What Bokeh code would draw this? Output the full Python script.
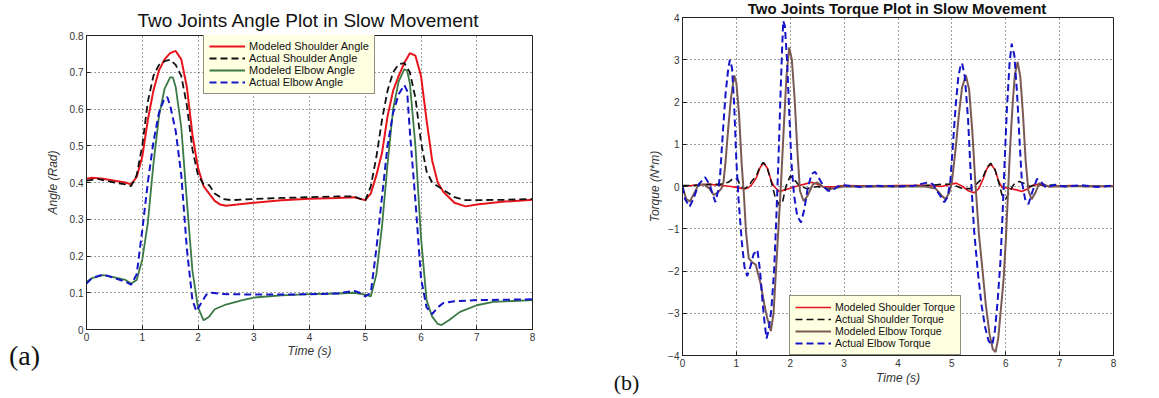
from bokeh.plotting import figure
from bokeh.layouts import row, column
from bokeh.models import Range1d, FixedTicker, Div
from bokeh.embed import file_html
from bokeh.resources import INLINE

# ---------------- (a) Angle data ----------------
title_a = "Two Joints Angle Plot in Slow Movement"
title_b = "Two Joints Torque Plot in Slow Movement"
x_ticks = [0, 1, 2, 3, 4, 5, 6, 7, 8]
angle_ticks = [0, 0.1, 0.2, 0.3, 0.4, 0.5, 0.6, 0.7, 0.8]
angle_tick_labels = ["0", "0.1", "0.2", "0.3", "0.4", "0.5", "0.6", "0.7", "0.8"]

sh_mod_t = [0, 0.1, 0.3, 0.5, 0.7, 0.8, 0.9, 1.0, 1.1, 1.2, 1.3, 1.4, 1.5, 1.6, 1.7, 1.8, 1.9, 2.0, 2.1, 2.2,
            2.3, 2.4, 2.5, 2.7, 3.0, 3.5, 4.0, 4.5, 4.8, 5.0, 5.1, 5.2, 5.3, 5.4, 5.5, 5.6, 5.7, 5.8, 5.9, 6.0,
            6.1, 6.2, 6.3, 6.4, 6.5, 6.6, 6.8, 7.0, 7.5, 8.0]
sh_mod = [0.41, 0.413, 0.41, 0.405, 0.40, 0.395, 0.415, 0.47, 0.57, 0.65, 0.705, 0.735, 0.752, 0.758, 0.735,
          0.66, 0.53, 0.44, 0.39, 0.37, 0.35, 0.34, 0.337, 0.34, 0.345, 0.352, 0.356, 0.358, 0.36, 0.352,
          0.37, 0.42, 0.48, 0.58, 0.65, 0.69, 0.725, 0.752, 0.745, 0.69, 0.57, 0.46, 0.40, 0.375, 0.36,
          0.345, 0.335, 0.34, 0.348, 0.353]

sh_act_t = [0, 0.2, 0.5, 0.7, 0.8, 0.9, 1.0, 1.1, 1.2, 1.3, 1.4, 1.5, 1.6, 1.7, 1.8, 1.9, 2.0, 2.1, 2.2, 2.3,
            2.45, 2.6, 3.0, 3.5, 4.0, 4.5, 4.8, 5.0, 5.1, 5.2, 5.3, 5.4, 5.5, 5.6, 5.7, 5.8, 5.9, 6.0, 6.1, 6.2,
            6.3, 6.4, 6.6, 6.8, 7.0, 7.5, 8.0]
sh_act = [0.405, 0.41, 0.40, 0.395, 0.39, 0.42, 0.50, 0.62, 0.69, 0.72, 0.73, 0.734, 0.72, 0.69, 0.61,
          0.49, 0.42, 0.395, 0.393, 0.37, 0.355, 0.352, 0.355, 0.358, 0.36, 0.362, 0.362, 0.35, 0.39, 0.47,
          0.57, 0.65, 0.70, 0.722, 0.725, 0.70, 0.63, 0.51, 0.43, 0.40, 0.39, 0.38, 0.36, 0.352, 0.352,
          0.353, 0.355]

el_mod_t = [0, 0.1, 0.3, 0.5, 0.7, 0.8, 0.9, 1.0, 1.1, 1.2, 1.3, 1.4, 1.5, 1.55, 1.6, 1.7, 1.8, 1.9, 2.0, 2.1,
            2.2, 2.3, 2.5, 2.8, 3.0, 3.5, 4.0, 4.5, 4.8, 5.0, 5.1, 5.2, 5.3, 5.4, 5.5, 5.6, 5.7, 5.75, 5.8, 5.9,
            6.0, 6.1, 6.2, 6.3, 6.37, 6.5, 6.7, 7.0, 7.3, 8.0]
el_mod = [0.13, 0.14, 0.148, 0.142, 0.135, 0.125, 0.135, 0.19, 0.29, 0.45, 0.58, 0.655, 0.686, 0.686, 0.66,
          0.55, 0.35, 0.16, 0.06, 0.025, 0.035, 0.055, 0.068, 0.08, 0.087, 0.093, 0.096, 0.098, 0.10, 0.095,
          0.09, 0.15, 0.28, 0.45, 0.60, 0.675, 0.708, 0.705, 0.67, 0.50, 0.25, 0.08, 0.035, 0.015, 0.012,
          0.025, 0.048, 0.066, 0.075, 0.08]

el_act_t = [0, 0.1, 0.3, 0.5, 0.7, 0.8, 0.9, 1.0, 1.1, 1.2, 1.3, 1.4, 1.45, 1.5, 1.6, 1.7, 1.8, 1.9, 1.97, 2.05,
            2.15, 2.25, 2.4, 2.6, 3.0, 3.5, 4.0, 4.5, 4.8, 4.9, 5.0, 5.1, 5.2, 5.3, 5.4, 5.5, 5.6, 5.7, 5.75, 5.8,
            5.9, 6.0, 6.1, 6.2, 6.3, 6.4, 6.6, 7.0, 7.5, 8.0]
el_act = [0.125, 0.14, 0.15, 0.14, 0.13, 0.122, 0.15, 0.27, 0.40, 0.51, 0.59, 0.63, 0.632, 0.61, 0.54,
          0.42, 0.22, 0.08, 0.05, 0.07, 0.095, 0.10, 0.097, 0.096, 0.095, 0.095, 0.096, 0.098, 0.105, 0.10,
          0.09, 0.10, 0.22, 0.36, 0.50, 0.59, 0.64, 0.665, 0.65, 0.54, 0.35, 0.14, 0.06, 0.042, 0.06,
          0.072, 0.077, 0.08, 0.081, 0.082]

# ---------------- (b) Torque data ----------------
torque_ticks = [-4, -3, -2, -1, 0, 1, 2, 3, 4]

tq_sh_mod_t = [0, 0.3, 0.5, 0.7, 0.9, 1.0, 1.15, 1.22, 1.29, 1.37, 1.44, 1.51, 1.58, 1.65, 1.7, 1.8, 1.9, 2.0,
               2.1, 2.25, 2.39, 2.5, 2.6, 2.8, 3.0, 3.5, 4.0, 4.5, 4.8, 5.08, 5.2, 5.3, 5.41, 5.5, 5.57, 5.65,
               5.72, 5.8, 5.87, 5.93, 6.05, 6.2, 6.3, 6.4, 6.5, 6.6, 6.8, 7.2, 7.6, 8.0]
tq_sh_mod = [0.0, 0.04, 0.05, 0.03, 0.0, -0.02, -0.06, -0.03, 0.05, 0.2, 0.45, 0.56, 0.42, 0.12, 0.0, -0.12,
             -0.08, -0.04, 0.0, 0.05, 0.1, 0.06, 0.0, -0.01, 0.02, 0.01, 0.02, 0.03, 0.0, 0.08, 0.0, -0.1,
             -0.15, -0.05, 0.15, 0.42, 0.54, 0.4, 0.12, -0.02, -0.04, -0.08, -0.12, -0.06, 0.03, 0.05, 0.0,
             0.02, 0.0, 0.01]

tq_sh_act_t = [0, 0.3, 0.5, 0.7, 0.85, 0.95, 1.02, 1.08, 1.15, 1.22, 1.3, 1.37, 1.44, 1.5, 1.57, 1.65, 1.72,
               1.8, 1.86, 1.92, 2.0, 2.05, 2.15, 2.3, 2.5, 2.7, 2.9, 3.5, 4.0, 4.5, 4.8, 5.0, 5.1, 5.2, 5.35,
               5.45, 5.57, 5.65, 5.72, 5.8, 5.87, 5.93, 6.0, 6.08, 6.15, 6.25, 6.33, 6.45, 6.6, 7.0, 7.5, 8.0]
tq_sh_act = [0.02, 0.03, 0.05, 0.05, 0.1, 0.2, 0.18, 0.0, -0.05, 0.0, 0.15, 0.25, 0.48, 0.57, 0.45, 0.1,
             -0.25, -0.45, -0.35, 0.0, 0.25, 0.2, 0.05, -0.05, 0.0, -0.05, 0.0, 0.0, 0.0, 0.02, 0.05, 0.06,
             0.0, -0.05, -0.05, 0.05, 0.2, 0.45, 0.55, 0.4, 0.1, -0.2, -0.3, -0.1, 0.05, 0.12, 0.08, 0.0,
             0.05, 0.02, 0.0, 0.02]

tq_el_mod_t = [0, 0.07, 0.14, 0.22, 0.3, 0.4, 0.5, 0.58, 0.65, 0.72, 0.76, 0.8, 0.85, 0.9, 0.96, 1.0, 1.05,
               1.1, 1.14, 1.18, 1.23, 1.3, 1.36, 1.45, 1.52, 1.57, 1.64, 1.69, 1.73, 1.78, 1.83, 1.88, 1.93,
               1.98, 2.03, 2.08, 2.13, 2.18, 2.25, 2.33, 2.42, 2.5, 2.6, 2.7, 2.8, 3.0, 3.5, 4.0, 4.5, 4.7,
               4.8, 4.88, 4.95, 5.0, 5.07, 5.13, 5.19, 5.26, 5.32, 5.38, 5.43, 5.5, 5.57, 5.63, 5.7, 5.76,
               5.81, 5.86, 5.91, 5.96, 6.0, 6.04, 6.08, 6.13, 6.17, 6.22, 6.27, 6.32, 6.37, 6.42, 6.48, 6.55,
               6.62, 6.7, 6.8, 7.0, 7.5, 8.0]
tq_el_mod = [0.0, -0.3, -0.35, -0.15, 0.05, 0.05, -0.05, -0.2, -0.15, -0.05, 0.1, 0.6, 1.4, 2.1, 2.63, 2.45,
             1.7, 0.5, -0.2, -1.1, -1.7, -1.8, -1.85, -2.3, -2.8, -3.1, -3.42, -3.0, -2.1, -1.0, 0.1, 1.4,
             2.6, 3.29, 3.0, 2.1, 0.9, -0.1, -0.35, -0.2, 0.05, 0.1, 0.0, -0.08, -0.04, 0.0, 0.0, 0.0, 0.0,
             -0.05, -0.2, -0.3, -0.15, 0.1, 0.9, 1.7, 2.35, 2.63, 2.3, 1.3, 0.2, -1.1, -2.0, -2.8, -3.5,
             -3.85, -3.92, -3.6, -2.9, -2.2, -1.3, -0.2, 0.9, 2.0, 2.65, 2.95, 2.6, 1.7, 0.6, -0.1, -0.3,
             -0.15, 0.08, 0.05, 0.0, 0.0, 0.01, 0.0]

tq_el_act_t = [0, 0.05, 0.13, 0.2, 0.3, 0.42, 0.5, 0.61, 0.66, 0.7, 0.75, 0.8, 0.85, 0.88, 0.92, 0.96, 1.0,
               1.04, 1.1, 1.15, 1.2, 1.26, 1.32, 1.39, 1.44, 1.49, 1.53, 1.56, 1.6, 1.65, 1.7, 1.74, 1.78,
               1.82, 1.85, 1.87, 1.9, 1.94, 1.98, 2.02, 2.07, 2.13, 2.2, 2.26, 2.33, 2.4, 2.46, 2.53, 2.62,
               2.7, 2.78, 2.88, 3.0, 3.3, 3.6, 4.0, 4.3, 4.5, 4.57, 4.65, 4.72, 4.8, 4.86, 4.92, 4.97, 5.02,
               5.07, 5.12, 5.16, 5.19, 5.24, 5.3, 5.35, 5.41, 5.48, 5.55, 5.62, 5.68, 5.75, 5.8, 5.85, 5.9,
               5.94, 5.98, 6.02, 6.07, 6.11, 6.16, 6.21, 6.26, 6.3, 6.36, 6.42, 6.5, 6.58, 6.66, 6.75, 6.9,
               7.1, 7.4, 7.7, 8.0]
tq_el_act = [0.0, -0.3, -0.48, -0.3, 0.05, 0.22, 0.05, -0.37, -0.1, 0.3, 1.3, 2.2, 2.8, 3.0, 2.8, 1.9, 0.6,
             -0.3, -1.3, -1.9, -2.12, -1.9, -1.6, -1.5, -2.0, -2.8, -3.3, -3.6, -3.4, -2.9, -2.0, -0.8, 0.6,
             2.2, 3.3, 3.92, 3.8, 3.0, 1.8, 0.6, -0.2, -0.7, -0.85, -0.55, 0.0, 0.3, 0.35, 0.2, 0.0, -0.1,
             -0.1, 0.0, 0.03, -0.01, 0.02, 0.0, 0.02, 0.08, 0.1, 0.05, -0.1, -0.25, -0.37, -0.25, 0.1, 1.0,
             1.9, 2.6, 2.85, 2.92, 2.6, 1.6, 0.3, -1.0, -2.0, -2.8, -3.35, -3.65, -3.75, -3.4, -2.7, -1.8,
             -0.7, 0.6, 1.8, 2.9, 3.38, 3.1, 2.2, 1.0, 0.1, -0.3, -0.42, -0.1, 0.18, 0.1, -0.03, 0.04, 0.0,
             0.03, -0.01, 0.02]

FONT = "Liberation Sans"
GRID = "#3a3a3a"


def style(p, xticks, yticks, ylabels=None):
    p.outline_line_color = "#222222"
    p.outline_line_width = 1
    p.background_fill_color = "white"
    p.border_fill_color = "white"
    for ax in (p.xaxis[0], p.yaxis[0]):
        ax.major_tick_in = 4
        ax.major_tick_out = 0
        ax.minor_tick_line_color = None
        ax.axis_line_color = "#222222"
        ax.major_tick_line_color = "#222222"
        ax.major_label_text_font = FONT
        ax.major_label_text_font_size = "10px"
        ax.major_label_text_color = "#333333"
        ax.major_label_standoff = 3
        ax.axis_label_text_font = FONT
        ax.axis_label_text_font_size = "12px"
        ax.axis_label_text_font_style = "italic"
        ax.axis_label_text_color = "#333333"
    p.xaxis[0].ticker = FixedTicker(ticks=xticks)
    p.yaxis[0].ticker = FixedTicker(ticks=yticks)
    if ylabels is not None:
        p.yaxis[0].major_label_overrides = {v: s for v, s in zip(yticks, ylabels)}
    for g in (p.xgrid[0], p.ygrid[0]):
        g.grid_line_color = GRID
        g.grid_line_dash = "1 3"
        g.grid_line_width = 1


def style_legend(p, loc, font_size):
    lg = p.legend[0]
    lg.location = loc
    lg.margin = 0
    lg.padding = 5
    lg.spacing = 0
    lg.glyph_width = 36
    lg.glyph_height = 12
    lg.label_height = 12
    lg.label_standoff = 4
    lg.label_text_font = FONT
    lg.label_text_font_size = font_size
    lg.label_text_color = "#111111"
    lg.background_fill_color = "#ffffe1"
    lg.background_fill_alpha = 1
    lg.border_line_color = "#222222"
    lg.border_line_width = 1


# ---------------- left figure ----------------
p1 = figure(frame_width=446, frame_height=294, min_border_left=86, min_border_right=48,
            min_border_top=35, min_border_bottom=69,
            x_range=Range1d(0, 8), y_range=Range1d(0, 0.8),
            output_backend="svg", toolbar_location=None)
style(p1, x_ticks, angle_ticks, angle_tick_labels)
p1.xaxis[0].axis_label = "Time (s)"
p1.xaxis[0].axis_label_standoff = 0
p1.yaxis[0].axis_label = "Angle (Rad)"
p1.yaxis[0].axis_label_standoff = 7

p1.line(sh_mod_t, sh_mod, line_color="#e8141c", line_width=2, legend_label="Modeled Shoulder Angle")
p1.line(sh_act_t, sh_act, line_color="#111111", line_width=1.8, line_dash="7 4",
        legend_label="Actual Shoulder Angle")
p1.line(el_mod_t, el_mod, line_color="#3b7a45", line_width=1.8, legend_label="Modeled Elbow Angle")
p1.line(el_act_t, el_act, line_color="#1414c8", line_width=2, line_dash="7 4",
        legend_label="Actual Elbow Angle")
style_legend(p1, (117, 235), "11px")

# ---------------- right figure ----------------
p2 = figure(frame_width=431, frame_height=338, min_border_left=102, min_border_right=46,
            min_border_top=17, min_border_bottom=43,
            x_range=Range1d(0, 8), y_range=Range1d(-4, 4),
            output_backend="svg", toolbar_location=None)
style(p2, x_ticks, torque_ticks)
p2.xaxis[0].axis_label = "Time (s)"
p2.xaxis[0].axis_label_standoff = 1
p2.yaxis[0].axis_label = "Torque (N*m)"
p2.yaxis[0].axis_label_standoff = 3

p2.line(tq_sh_mod_t, tq_sh_mod, line_color="#e8141c", line_width=1.6, legend_label="Modeled Shoulder Torque")
p2.line(tq_sh_act_t, tq_sh_act, line_color="#111111", line_width=1.6, line_dash="7 4",
        legend_label="Actual Shoulder Torque")
p2.line(tq_el_mod_t, tq_el_mod, line_color="#7a5a52", line_width=2, legend_label="Modeled Elbow Torque")
p2.line(tq_el_act_t, tq_el_act, line_color="#1414c8", line_width=2, line_dash="7 4",
        legend_label="Actual Elbow Torque")
style_legend(p2, (107, 0), "10.5px")

# ---------------- titles and panel letters (HTML overlay) ----------------
def tag(text, left, top, width, size, family, weight="normal"):
    return ('<div style="position:absolute;left:%dpx;top:%dpx;width:%dpx;text-align:center;'
            'font-family:\'%s\';font-size:%dpx;line-height:%dpx;font-weight:%s;color:#111;'
            'white-space:nowrap;">%s</div>' % (left, top, width, family, size, size, weight, text))

overlay_html = ('<div style="position:relative;width:0;height:0;overflow:visible;">'
                + tag(title_a, -5, -404, 616, 19, FONT)
                + tag(title_b, 592, -414, 600, 15, FONT, "bold")
                + tag("(a)", -5, -73, 49, 28, "Liberation Serif")
                + tag("(b)", 595, -43, 53, 22, "Liberation Serif")
                + '</div>')
overlay = Div(text=overlay_html, width=1159, height=0, styles={"overflow": "visible"})

layout = column(row(column(p1), column(p2)), overlay)
open("out.html", "w").write(file_html(layout, INLINE))
